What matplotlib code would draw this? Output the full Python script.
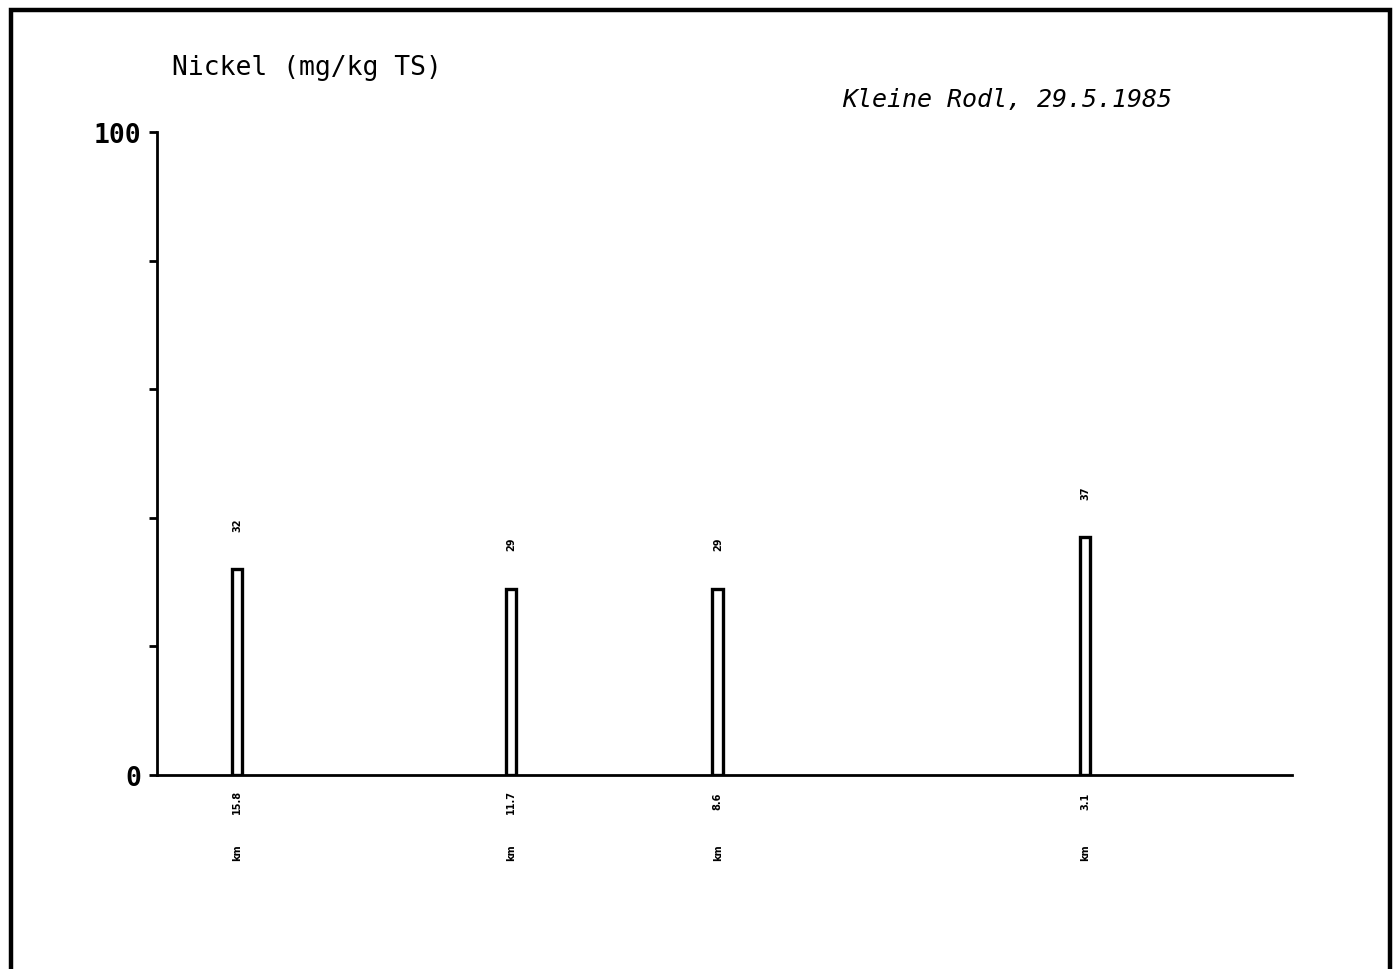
import matplotlib.pyplot as plt
from matplotlib.patches import Rectangle

# data
km = [15.8, 11.7, 8.6, 3.1]
km_labels = ['15.8', '11.7', '8.6', '3.1']
nickel = [32, 29, 29, 37]
yticks = [0, 20, 40, 60, 80, 100]
ytick_labels = ['0', '', '', '', '', '100']

fig = plt.figure(figsize=(13.98, 9.70), dpi=100)

# frame around the whole page (bottom edge runs off the scan)
fig.patches.append(Rectangle((11 / 1398, -0.02), (1390 - 11) / 1398, 1.02 - 11 / 970,
                             transform=fig.transFigure, fill=False,
                             edgecolor='black', linewidth=3.2))

ax = fig.add_axes([157 / 1398, 1 - 776 / 970, (1292 - 157) / 1398, (776 - 133) / 970])

ax.bar(km, nickel, width=0.16, facecolor='white', edgecolor='black', linewidth=2.4)

ax.set_xlim(17.0, 0.0)
ax.set_ylim(0, 100)

for s in ['top', 'right']:
    ax.spines[s].set_visible(False)
for s in ['left', 'bottom']:
    ax.spines[s].set_linewidth(2.0)

ax.set_xticks([])
ax.set_yticks(yticks)
ax.set_yticklabels(ytick_labels, fontsize=19, fontweight='bold', family='DejaVu Sans Mono')
ax.tick_params(axis='y', length=6, width=2.0, pad=5)

# value labels above bars
for x, v in zip(km, nickel):
    ax.text(x, v + 7, str(v), rotation=90, ha='center', va='center',
            fontsize=7, fontweight='bold')

# km labels below axis
for x, lab in zip(km, km_labels):
    ax.text(x, -4, lab, rotation=90, ha='center', va='center',
            fontsize=7, fontweight='bold')
    ax.text(x, -12, 'km', rotation=90, ha='center', va='center',
            fontsize=7, fontweight='bold')

fig.text(172 / 1398, 1 - 68 / 970, 'Nickel (mg/kg TS)', ha='left', va='center',
         fontsize=19, family='DejaVu Sans Mono')
fig.text(1172 / 1398, 1 - 100 / 970, 'Kleine Rodl, 29.5.1985', ha='right', va='center',
         fontsize=18, style='italic', family='DejaVu Sans Mono')

fig.savefig('out.png', dpi=100)
